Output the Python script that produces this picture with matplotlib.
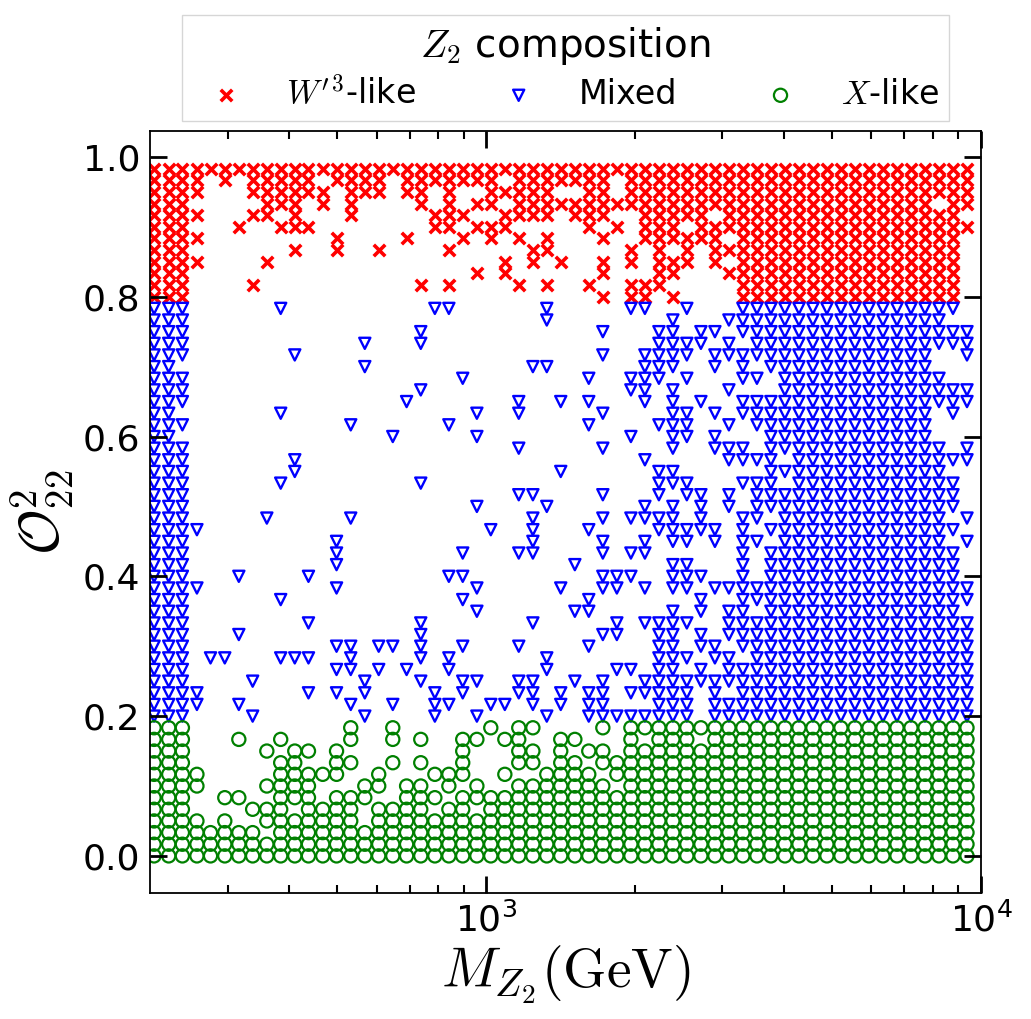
import matplotlib
matplotlib.use("Agg")
import matplotlib.pyplot as plt
from matplotlib.ticker import LogLocator, NullFormatter, MultipleLocator

plt.rcParams["mathtext.fontset"] = "cm"

# scan grid (visible columns only)
M_GEV = [213, 228, 243, 260, 277, 296, 316, 337, 360, 384,
         410, 437, 467, 498, 532, 568, 606, 647, 690, 737,
         787, 840, 896, 957, 1021, 1090, 1163, 1242, 1325, 1414,
         1510, 1611, 1720, 1836, 1960, 2092, 2233, 2383, 2543, 2715,
         2898, 3093, 3301, 3524, 3761, 4014, 4285, 4573, 4881, 5210,
         5561, 5936, 6336, 6763, 7218, 7705, 8224, 8777, 9369]

O2_LEVELS = [0.0, 0.0167, 0.0333, 0.05, 0.0667, 0.0833, 0.1, 0.1167, 0.1333, 0.15,
             0.1667, 0.1833, 0.2, 0.2167, 0.2333, 0.25, 0.2667, 0.2833, 0.3, 0.3167,
             0.3333, 0.35, 0.3667, 0.3833, 0.4, 0.4167, 0.4333, 0.45, 0.4667, 0.4833,
             0.5, 0.5167, 0.5333, 0.55, 0.5667, 0.5833, 0.6, 0.6167, 0.6333, 0.65,
             0.6667, 0.6833, 0.7, 0.7167, 0.7333, 0.75, 0.7667, 0.7833, 0.8, 0.8167,
             0.8333, 0.85, 0.8667, 0.8833, 0.9, 0.9167, 0.9333, 0.95, 0.9667, 0.9833]

# row index -> occupied column indices
W3_ROWS = {
    59: "0-58",
    58: "0-3,5,7-11,13-16,18-24,26-32,34-58",
    57: "0-3,7-12,14-16,18-19,21,24-28,31-32,34-58",
    56: "0-2,8-10,12,14,19,21,23-24,26-55,57-58",
    55: "0-3,7-8,10,14,20-22,25-28,30-32,35-39,41-57",
    54: "0-2,6,9-11,20-21,23-25,31,33,35-37,39-58",
    53: "0-3,13,18,22,24,26,28,32,35-40,42-57",
    52: "0-2,10,13,16,21,27-28,34,36,38,40-57",
    51: "0-3,8,25,27,29,32,34,36-38,40,42-57",
    50: "0-2,23,25,32,36-37,41-57",
    49: "0-2,7,19,21,26,28,31,34-36,42-57",
    48: "0-2,32,34-35,37,42-57",
}

MIXED_ROWS = {
    47: "0-2,9,20-21,28,34-35,38,42-57",
    46: "0-2,28,37,41-56",
    45: "0-2,19,32,36-37,39-40,42-58",
    44: "0-2,15,19,36-39,41,43-58",
    43: "0-2,10,32,35-38,40-55,58",
    42: "0-1,15,27-28,35-37,40,42,44-55",
    41: "0-2,22,31,34-36,38,42-43,45-56",
    40: "0-2,19,34-35,37,41,45-58",
    39: "0-2,18,26,29,31,35,37,39,42-58",
    38: "0-1,9,23,26,32,37-38,40,42-55,57",
    37: "0-2,14,21,31,36-38,41,43-55",
    36: "0-1,17,23,34,37-38,40,44-55",
    35: "0-2,26,32,37,40-42,44-56,58",
    34: "0-2,10,35,41-44,46-58",
    33: "0-2,10,29,36-37,44-56",
    32: "0-2,9,19,36-38,42-44,46-57",
    31: "0-2,26-27,32,36,38-39,41,43-57",
    30: "0-2,23,28,35,37,39,41,43-57",
    29: "0-2,8,14,27,32,34-37,39,42-43,45-56,58",
    28: "0-3,24,27,31,36-40,42,44-57",
    27: "0-2,13,27,32,35,37-38,40,42-43,45-56,58",
    26: "0-2,13,22,26-27,32,34-35,42,44-57",
    25: "0-2,13,30,37-38,42,44-57",
    24: "0-2,6,11,21-22,32-34,37-39,42,44-57",
    23: "0-3,13,23,29,32-33,35,37-38,40-58",
    22: "0-2,9,22,31,39,42-58",
    21: "0-2,23,30-31,37,39,41-42,44-57",
    20: "0-2,11,19,27,33,35-38,41-58",
    19: "0-2,6,19,32-33,36-37,39,41-58",
    18: "0-2,13-14,16-17,19,22,26,31,36-37,39-40,42-58",
    17: "0-2,4-5,9-11,14,19,21,28,36-38,40-41,43-58",
    16: "0-2,13-14,16,18,21,28,33-34,36-37,39,41-58",
    15: "0-2,7,15,19,22-23,26-27,30,32,35-58",
    14: "0-3,11,13,15,20,22,26-27,29,31-32,34-38,40,42-58",
    13: "0-3,6,14,17,20-21,24-25,27,29,31-32,36-38,40-58",
    12: "0-2,7,15,20,23,28,31-38,40-58",
}

X_ROWS = {
    11: "0-2,14,17,24,26-27,32,34-58",
    10: "0-2,6,9,14,17,19,22-23,25-26,29-30,34,36-38,40-58",
    9: "0-2,8,10-11,13,22,26-27,29,31-32,34-58",
    8: "0-2,9-10,13-14,17,19,22,26-27,29-30,32-58",
    7: "0-3,9-13,16,20-22,25,28-31,33-58",
    6: "0-3,8-11,15-16,18-19,21,23,26-32,34-58",
    5: "0-2,5-6,9-11,13-15,18-20,22-58",
    4: "0-2,7-9,11-14,16-19,21-22,24-58",
    3: "0-3,5,8-14,16-58",
    2: "0-7,9-58",
    1: "0-58",
    0: "0-58",
}


def cols_of(spec):
    out = []
    for part in spec.split(","):
        if "-" in part:
            a, b = part.split("-")
            out.extend(range(int(a), int(b) + 1))
        else:
            out.append(int(part))
    return out


def points(rows):
    xs, ys = [], []
    for r, spec in rows.items():
        for c in cols_of(spec):
            xs.append(M_GEV[c])
            ys.append(O2_LEVELS[r])
    return xs, ys


fig = plt.figure(figsize=(10.31, 10.19), dpi=100)
ax = fig.add_axes([0.1455, 0.1237, 0.806, 0.7477])

x, y = points(W3_ROWS)
ax.scatter(x, y, marker="x", c="red", s=68, linewidths=2.6, label=r"$W'^3$-like")
x, y = points(MIXED_ROWS)
ax.scatter(x, y, marker="v", facecolors="none", edgecolors="blue", s=64,
           linewidths=1.7, label="Mixed")
x, y = points(X_ROWS)
ax.scatter(x, y, marker="o", facecolors="none", edgecolors="green", s=90,
           linewidths=1.6, label=r"$X$-like")

ax.set_xscale("log")
ax.set_xlim(209, 1e4)
ax.set_ylim(-0.053, 1.037)
ax.yaxis.set_major_locator(MultipleLocator(0.2))
ax.xaxis.set_minor_locator(LogLocator(base=10, subs=range(2, 10)))
ax.xaxis.set_minor_formatter(NullFormatter())

ax.tick_params(which="both", direction="in", top=True, right=True, labelsize=26, pad=7)
ax.tick_params(which="major", length=12, width=2)
ax.tick_params(which="minor", length=6, width=1.5)
for sp in ax.spines.values():
    sp.set_linewidth(1.3)

ax.set_xlabel(r"$M_{Z_2}(\mathrm{GeV})$", fontsize=40)
ax.set_ylabel(r"$\mathcal{O}^2_{22}$", fontsize=40)

leg = ax.legend(loc="lower center", bbox_to_anchor=(0.5, 1.0), ncol=3,
                title=r"$Z_2$ composition", fontsize=24, title_fontsize=28,
                fancybox=False, edgecolor="0.8", scatterpoints=1,
                borderaxespad=0.3, borderpad=0.3, labelspacing=0.25,
                columnspacing=2.1)

fig.savefig("out.png", dpi=100)
